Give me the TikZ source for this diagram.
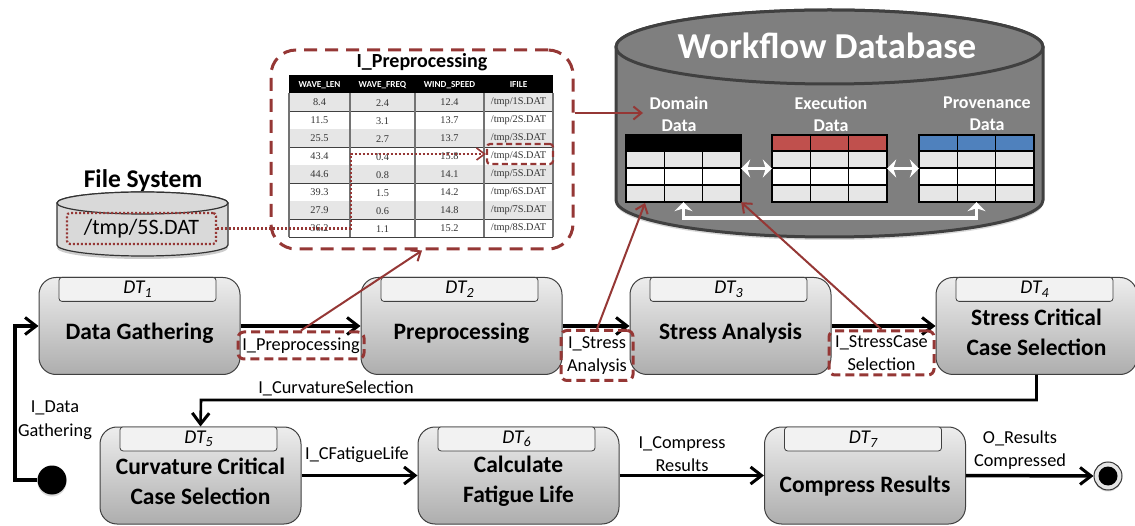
\documentclass[tikz,border=0pt]{standalone}
\usepackage{fontspec}
\setmainfont{Carlito}
\newfontfamily\cellfont{Liberation Serif}
\usetikzlibrary{arrows.meta,shadows}
\definecolor{darkred}{HTML}{953735}
\definecolor{dbgray}{HTML}{7F7F7F}
\definecolor{rowgray}{HTML}{E6E6E6}
\definecolor{execred}{HTML}{C0504D}
\definecolor{provblue}{HTML}{4F81BD}
\tikzset{
    flowtip/.style={-{Straight Barb[length=11pt,width=17pt,line width=3pt]}},
    flowarrow/.style={black, line width=3.5pt, flowtip},
    redarrow/.style={darkred, line width=2pt, -{Straight Barb[length=8pt,width=13pt,line width=2pt]}},
    dottedlink/.style={darkred, line width=2.2pt, dash pattern=on 2pt off 2pt},
    inputbox/.style={draw=darkred, line width=3pt, dash pattern=on 9pt off 5pt, rounded corners=6pt, inner sep=0pt},
    taskbox/.style={draw=black!75, line width=1pt, rounded corners=17pt, top color=black!7, bottom color=black!32, minimum width=201pt, minimum height=97pt, inner sep=0pt},
    taskhead/.style={draw=black!75, line width=0.8pt, rounded corners=3pt, fill=black!5, minimum width=157pt, minimum height=24pt, inner sep=0pt, font=\fontsize{19.5}{19.5}\selectfont\itshape},
    tasktitle/.style={align=center, font=\fontsize{23.5}{30}\selectfont\bfseries},
    flowlabel/.style={align=center, font=\fontsize{18.3}{23.5}\selectfont},
    dblabel/.style={align=center, text=white, font=\fontsize{18}{22}\selectfont\bfseries},
    whitearrow/.style={white, line width=3.5pt, {Stealth[length=9pt,width=18pt]}-{Stealth[length=9pt,width=18pt]}},
    cellnode/.style={font=\fontsize{10.3}{10.3}\selectfont\cellfont, text=black!80, inner sep=0pt},
    cellhead/.style={font=\fontsize{9.2}{9.2}\selectfont\bfseries, text=white, inner sep=0pt},
}
\begin{document}
\begin{tikzpicture}[x=1pt,y=-1pt]
    \newcommand{\drawtask}[5]{
        \node[taskbox] (dt#1) at (#2,#3) {};
        \node[taskhead, anchor=north] (head#1) at ([xshift=-2pt]dt#1.north) {\raisebox{-2pt}{DT\raisebox{-0.4ex}{\fontsize{14}{14}\selectfont #1}}};
        \node[tasktitle] (title#1) at ([yshift=#5pt]dt#1.center) {#4};
    }
    \newcommand{\drawdata}[3]{
        \begin{scope}[shift={(#2,135)}]
            \fill [#3] (0,0) rectangle (115,16);
            \fill [rowgray] (0,16) rectangle (115,33);
            \fill [white] (0,33) rectangle (115,50);
            \fill [rowgray] (0,50) rectangle (115,67);
            \draw [black, line width=1.5pt] (0,0) rectangle (115,67);
            \foreach \i in {16,33,50} {
                \draw [black, line width=1.5pt] (0,\i) -- (115,\i);
            }
            \foreach \i in {1,2} {
                \draw [black, line width=1.5pt] ({\i*38.33},0) -- ({\i*38.33},67);
            }
            \node[minimum width=115pt, minimum height=67pt, inner sep=0pt] (#1) at (57.5,33.5) {};
        \end{scope}
    }
    \useasboundingbox (0,0) rectangle (1135,526);

    \draw [black!75, line width=3pt, fill=dbgray, drop shadow={shadow xshift=0pt, shadow yshift=-3pt, opacity=0.3}] (616,47) -- (616,200) arc [x radius=213.5pt, y radius=37pt, start angle=180, end angle=360] -- (1043,47) arc [x radius=213.5pt, y radius=37pt, start angle=0, end angle=180] -- cycle;
    \draw [black!75, line width=3pt, fill=dbgray] (829.5,47) ellipse [x radius=213.5pt, y radius=37pt];
    \node[text=white, font=\fontsize{36.5}{36.5}\selectfont\bfseries] (dbtitle) at (827,46) {Workflow Database};
    \node[dblabel] (domainlabel) at (679,114) {Domain\\Data};
    \node[dblabel] (execlabel) at (831,114) {Execution\\Data};
    \node[dblabel] (provlabel) at (987,114) {Provenance\\Data};
    \drawdata{domain}{626}{black}
    \drawdata{execution}{772}{execred}
    \drawdata{provenance}{919}{provblue}
    \draw [whitearrow] (domain.east) -- (execution.west);
    \draw [whitearrow] (execution.east) -- (provenance.west);
    \draw [whitearrow] (domain.south) -- ++(0,16) -| (provenance.south);

    \draw [black!80, line width=1.2pt, fill=black!15, drop shadow={shadow xshift=0pt, shadow yshift=-3pt, opacity=0.4}] (57,203) -- (57,245) arc [x radius=85.5pt, y radius=11pt, start angle=180, end angle=360] -- (228,203) arc [x radius=85.5pt, y radius=11pt, start angle=0, end angle=180] -- cycle;
    \draw [black!80, line width=1.2pt, fill=black!15] (142.5,203) ellipse [x radius=85.5pt, y radius=11pt];
    \node[font=\fontsize{25.5}{25.5}\selectfont\bfseries] (fstitle) at (143,181) {File System};
    \node[dottedlink, draw=darkred, rounded corners=3pt, minimum width=149pt, minimum height=31pt, inner sep=0pt, text=black, font=\fontsize{22}{22}\selectfont] (fsfile) at (141.5,228.5) {/tmp/5S.DAT};

    \node[inputbox, dash pattern=on 13pt off 8pt, rounded corners=25pt, minimum width=302pt, minimum height=199pt] (group) at (422,149.5) {};
    \node[font=\fontsize{20}{20}\selectfont\bfseries] (grouptitle) at (422,62) {I\_Preprocessing};

    \fill [black] (289,75) rectangle (553,93);
    \foreach \n/\x/\name in {1/319.5/WAVE\_LEN,2/382.5/WAVE\_FREQ,3/449.5/WIND\_SPEED,4/518.5/IFILE} {
        \node[cellhead] (col\n) at (\x,85) {\name};
    }
    \foreach \i/\len/\freq/\speed in {1/8.4/2.4/12.4,2/11.5/3.1/13.7,3/25.5/2.7/13.7,4/43.4/0.4/15.8,5/44.6/0.8/14.1,6/39.3/1.5/14.2,7/27.9/0.6/14.8,8/36.2/1.1/15.2} {
        \pgfmathsetmacro{\rowtop}{93+(\i-1)*18}
        \pgfmathsetmacro{\rowmid}{\rowtop+9}
        \pgfmathsetmacro{\rowbot}{\rowtop+18}
        \ifodd\i
            \fill [rowgray] (289,\rowtop) rectangle (553,\rowbot);
        \fi
        \draw [black!75, line width=0.9pt] (289,\rowbot) -- (553,\rowbot);
        \node[cellnode] (len\i) at (319.5,\rowmid) {\len};
        \node[cellnode] (freq\i) at (382.5,\rowmid+1) {\freq};
        \node[cellnode] (speed\i) at (449.5,\rowmid) {\speed};
        \node[cellnode] (file\i) at (518.5,\rowmid) {/tmp/\i S.DAT};
    }
    \foreach \x in {289,350,415,484,553} {
        \draw [black!55, line width=1.1pt] (\x,93) -- (\x,237);
    }
    \node[draw=darkred, line width=2.2pt, dash pattern=on 6pt off 3.5pt, rounded corners=3pt, minimum width=66pt, minimum height=20pt, inner sep=0pt] (filebox) at (520,154) {};

    \coordinate (dotcorner) at (351,228.5);
    \draw [dottedlink, -{Straight Barb[length=8pt,width=12pt,line width=1.6pt]}] (fsfile.east) -- (dotcorner) |- (filebox.west);

    \drawtask{1}{139.5}{326}{Data Gathering}{-7.5}
    \drawtask{2}{461.5}{326}{Preprocessing}{-7.5}
    \drawtask{3}{730.5}{326}{Stress Analysis}{-7.5}
    \drawtask{4}{1036.5}{326}{Stress Critical\\Case Selection}{-6}
    \drawtask{5}{200.5}{475.5}{Curvature Critical\\Case Selection}{-6}
    \drawtask{6}{518.5}{475.5}{Calculate\\Fatigue Life}{-6}
    \drawtask{7}{865}{475.5}{Compress Results}{-10.5}

    \node[circle, fill=black, minimum size=29pt, inner sep=0pt, drop shadow={shadow xshift=0pt, shadow yshift=-2pt, opacity=0.3}] (start) at (52,480) {};
    \node[circle, draw=black!80, line width=1pt, fill=black!10, minimum size=28pt, inner sep=0pt, drop shadow={shadow xshift=0pt, shadow yshift=-1.5pt, opacity=0.3}] (finish) at (1108,476) {};
    \node[circle, fill=black, minimum size=19pt, inner sep=0pt] (finishdot) at (1108,476) {};

    \coordinate (startcorner) at (15,480);
    \coordinate (loopback) at (201,400);
    \draw [flowarrow] (start.west) -- (startcorner) |- (dt1.west);
    \draw [flowarrow] (dt1.east) -- (dt2.west);
    \draw [flowarrow] (dt2.east) -- (dt3.west);
    \draw [flowarrow] (dt3.east) -- (dt4.west);
    \draw [flowarrow, line width=2.6pt] (dt4.south) |- (loopback) -- (dt5.north);
    \draw [flowarrow] (dt5.east) -- (dt6.west);
    \draw [flowarrow] (dt6.east) -- (dt7.west);
    \draw [flowarrow] (dt7.east) -- (finish.west);

    \node[inputbox, flowlabel, minimum width=126pt, minimum height=27pt] (inpre) at (301,345.5) {I\_Preprocessing};
    \node[inputbox, flowlabel, minimum width=72pt, minimum height=50pt] (instress) at (597,355.5) {I\_Stress\\Analysis};
    \node[inputbox, flowlabel, minimum width=105pt, minimum height=44pt] (incase) at (881.5,353) {I\_StressCase\\Selection};
    \node[flowlabel] (incurv) at (336,388) {I\_CurvatureSelection};
    \node[flowlabel] (indata) at (55,420) {I\_Data\\Gathering};
    \node[flowlabel] (incfat) at (357,455) {I\_CFatigueLife};
    \node[flowlabel] (incomp) at (682,454) {I\_Compress\\Results};
    \node[flowlabel] (outres) at (1020,450) {O\_Results\\Compressed};

    \coordinate (dbentry) at (643,113);
    \coordinate (domainhit) at (645,203);
    \draw [redarrow] (group.east |- dbentry) -- (dbentry);
    \draw [redarrow] (inpre.north) -- (group.south);
    \draw [redarrow] (instress.north) -- (domainhit);
    \draw [redarrow] (incase.north) -- (domain.south east);
\end{tikzpicture}
\end{document}
